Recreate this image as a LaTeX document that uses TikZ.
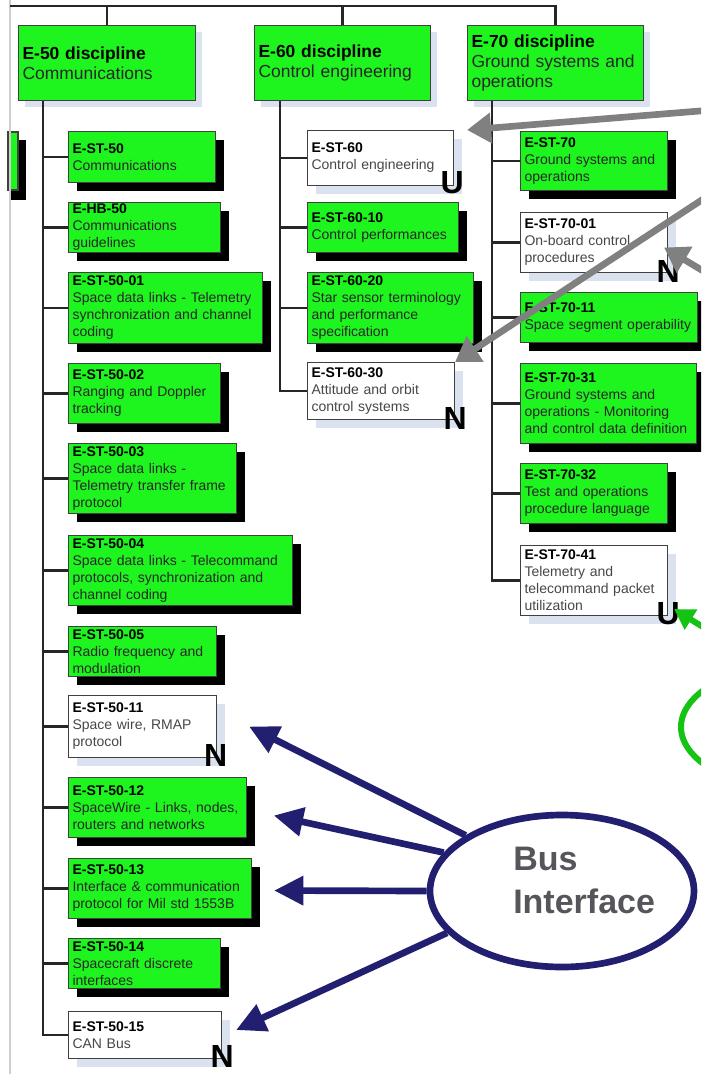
\documentclass[tikz,border=0pt]{standalone}
\usepackage{fontspec}
\setmainfont{Liberation Sans}
\usetikzlibrary{shapes.geometric,arrows.meta,shadows,calc}

\definecolor{boxgreen}{RGB}{30,245,30}
\definecolor{navy}{RGB}{34,30,112}
\definecolor{arrowgray}{RGB}{128,128,128}
\definecolor{palesh}{RGB}{218,226,240}
\definecolor{brightgreen}{RGB}{20,195,20}
\definecolor{buslabel}{RGB}{85,85,92}
\definecolor{borderline}{RGB}{205,205,205}

\newcommand\bx[8]{%
  \pgfmathsetlengthmacro\bxtw{(#4-8)*0.75pt}%
  \node[#6, minimum width=#4*0.75pt, minimum height=#5*0.75pt, text width=\bxtw] (#1) at (#2,#3) {\textcolor{black}{\bfseries #7}\\#8};}

\tikzset{
  boxbase/.style={draw=black!75, line width=0.8pt, anchor=north west, inner xsep=3pt, inner ysep=0pt, align=left, font=\fontsize{10.5}{12.75}\selectfont},
  gbox/.style={boxbase, fill=boxgreen, text=black!85, general shadow={fill=black, shadow xshift=6pt, shadow yshift=-6pt}},
  wbox/.style={boxbase, fill=white, text=black!72, general shadow={fill=palesh, shadow xshift=6pt, shadow yshift=-6pt}},
  hbox/.style={boxbase, fill=boxgreen, text=black!85, font=\fontsize{13.1}{15}\selectfont, general shadow={fill=palesh, shadow xshift=5pt, shadow yshift=-5pt}},
  tree/.style={draw=black!85, line width=1.6pt},
  flag/.style={font=\fontsize{24}{24}\selectfont\bfseries, inner sep=0pt, text=black},
  grayarrow/.style={draw=arrowgray, line width=5pt, -{Triangle[length=18pt,width=22pt]}},
  navyarrow/.style={draw=navy, line width=5pt, -{Triangle[length=22pt,width=21pt]}},
  greenarrow/.style={draw=brightgreen, line width=4.5pt, -{Triangle[length=15pt,width=17pt]}}
}

\begin{document}
\begin{tikzpicture}[x=0.75pt,y=-0.75pt]
\useasboundingbox (0,0) rectangle (701,1074);
\clip (0,0) rectangle (701,1074);
\fill[white] (0,0) rectangle (701,1074);

% page border and clipped box at left
\fill[black] (10,140) rectangle (26,200);
\filldraw[fill=boxgreen, draw=black!75, line width=0.8pt] (8,132) rectangle (18,190);
\draw[borderline, line width=0.8pt] (10,0) -- (10,1074);

% headers
\bx{h50}{18}{25}{177}{75}{hbox}{E-50 discipline}{Communications}
\bx{h60}{254}{25}{176}{75}{hbox}{E-60 discipline}{Control engineering}
\bx{h70}{467}{25}{176}{75}{hbox}{E-70 discipline}{Ground systems and\\operations}

% E-50 column
\bx{b50}{68}{131}{147}{51}{gbox}{E-ST-50}{Communications}
\bx{bhb50}{68}{202}{152}{50}{gbox}{E-HB-50}{Communications\\guidelines}
\bx{b5001}{68}{272}{194}{71}{gbox}{E-ST-50-01}{Space data links - Telemetry\\synchronization and channel\\coding}
\bx{b5002}{68}{363}{152}{60}{gbox}{E-ST-50-02}{Ranging and Doppler\\tracking}
\bx{b5003}{68}{443}{168}{70}{gbox}{E-ST-50-03}{Space data links -\\Telemetry transfer frame\\protocol}
\bx{b5004}{68}{535}{224}{70}{gbox}{E-ST-50-04}{Space data links - Telecommand\\protocols, synchronization and\\channel coding}
\bx{b5005}{68}{626}{148}{50}{gbox}{E-ST-50-05}{Radio frequency and\\modulation}
\bx{b5011}{68}{695}{148}{62}{wbox}{E-ST-50-11}{Space wire, RMAP\\protocol}
\bx{b5012}{68}{777}{178}{60}{gbox}{E-ST-50-12}{SpaceWire - Links, nodes,\\routers and networks}
\bx{b5013}{68}{858}{183}{60}{gbox}{E-ST-50-13}{Interface \& communication\\protocol for Mil std 1553B}
\bx{b5014}{68}{938}{152}{50}{gbox}{E-ST-50-14}{Spacecraft discrete\\interfaces}
\bx{b5015}{68}{1011}{153}{47}{wbox}{E-ST-50-15}{CAN Bus}

% E-60 column
\bx{b60}{307}{130}{146}{55}{wbox}{E-ST-60}{Control engineering}
\bx{b6010}{307}{202}{151}{50}{gbox}{E-ST-60-10}{Control performances}
\bx{b6020}{307}{272}{166}{71}{gbox}{E-ST-60-20}{Star sensor terminology\\and performance\\specification}
\bx{b6030}{307}{362}{147}{57}{wbox}{E-ST-60-30}{Attitude and orbit\\control systems}

% E-70 column
\bx{b70}{520}{131}{147}{59}{gbox}{E-ST-70}{Ground systems and\\operations}
\bx{b7001}{520}{212}{147}{60}{wbox}{E-ST-70-01}{On-board control\\procedures}
\bx{b7011}{520}{292}{177}{50}{gbox}{E-ST-70-11}{Space segment operability}
\bx{b7031}{520}{363}{176}{80}{gbox}{E-ST-70-31}{Ground systems and\\operations - Monitoring\\and control data definition}
\bx{b7032}{520}{463}{147}{60}{gbox}{E-ST-70-32}{Test and operations\\procedure language}
\bx{b7041}{520}{545}{147}{70}{wbox}{E-ST-70-41}{Telemetry and\\telecommand packet\\utilization}

% tree connectors
\coordinate (tl) at (10,6);
\draw[tree] (tl) -| (h70.north);
\draw[tree] (h50.north) -- (h50.north |- tl);
\draw[tree] (h60.north) -- (h60.north |- tl);
\coordinate (t50) at ([xshift=18.75pt]h50.south west);
\coordinate (t60) at ([xshift=19.5pt]h60.south west);
\coordinate (t70) at ([xshift=18.75pt]h70.south west);
\foreach \c in {b50,bhb50,b5001,b5002,b5003,b5004,b5005,b5011,b5012,b5013,b5014,b5015}
  \draw[tree] (t50) |- (\c.west);
\foreach \c in {b60,b6010,b6020,b6030}
  \draw[tree] (t60) |- (\c.west);
\foreach \c in {b70,b7001,b7011,b7031,b7032,b7041}
  \draw[tree] (t70) |- (\c.west);

% status flags
\node[flag] (u60) at ([xshift=-1.5pt,yshift=2.5pt]b60.south east) {U};
\node[flag] (n6030) at ([yshift=1pt]b6030.south east) {N};
\node[flag] (n7001) at ([yshift=1pt]b7001.south east) {N};
\node[flag] (u7041) at ([yshift=1.5pt]b7041.south east) {U};
\node[flag] (n5011) at ([xshift=-1pt,yshift=2pt]b5011.south east) {N};
\node[flag] (n5015) at ([yshift=2pt]b5015.south east) {N};

% bus interface
\node[ellipse, draw=navy, line width=5pt, minimum width=198pt, minimum height=114pt, inner sep=0pt] (bus) at (562,891) {};
\node[anchor=west, align=left, inner sep=0pt, font=\fontsize{25.5}{32.25}\selectfont\bfseries, text=buslabel] (buslbl) at (513,880) {Bus\\Interface};

\draw[navyarrow] (bus.150) -- ([xshift=24pt]b5011.east);
\draw[navyarrow] (bus.162) -- ([xshift=20pt,yshift=-6pt]b5012.east);
\draw[navyarrow] (bus.west) -- ([xshift=16.5pt,yshift=-1.5pt]b5013.east);
\draw[navyarrow] (bus.200) -- ([xshift=10.5pt,yshift=3.75pt]b5015.east);

% gray arrows from the right
\coordinate (g1) at (712,110);
\coordinate (g2) at (720,188);
\coordinate (g3) at (720,281);
\draw[grayarrow] (g1) -- ([xshift=9.75pt]b60.north east);
\draw[grayarrow] (g2) -- (b6030.north east);
\draw[grayarrow] (g3) -- ([xshift=-3pt,yshift=-3.75pt]b7001.east);

% green arrow and green ellipse at right
\coordinate (g4) at (740,650);
\draw[greenarrow] (g4) -- ([xshift=4.5pt,yshift=5.25pt]b7041.south east);
\draw[brightgreen, line width=4.5pt] (813,727) ellipse [x radius=99pt, y radius=49.5pt];
\end{tikzpicture}
\end{document}
